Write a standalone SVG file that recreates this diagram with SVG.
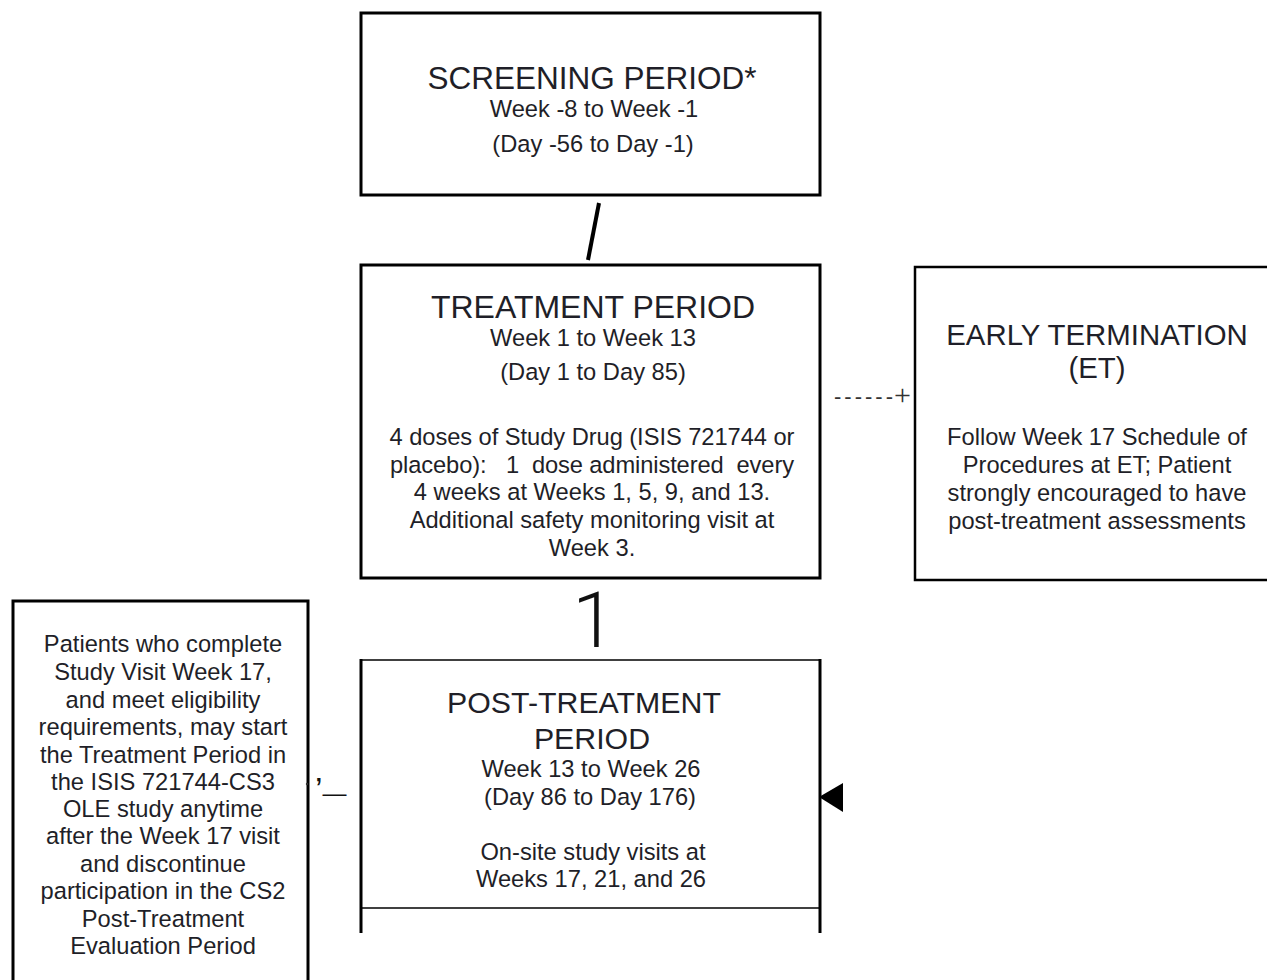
<svg xmlns="http://www.w3.org/2000/svg" width="1267" height="980" viewBox="0 0 1267 980">
<style>
.box{fill:#fff;stroke:#000;stroke-width:3}
text{font-family:"Liberation Sans",Arial,sans-serif;fill:#1f1f28;text-anchor:middle}
.t{font-size:31.5px}
.b{font-size:23.7px}
</style>
<rect width="1267" height="980" fill="#fff"/>
<g id="screening">
<rect class="box" x="361" y="13" width="459" height="182"/>
<text class="t" x="592" y="89">SCREENING PERIOD*</text>
<text class="b" x="594" y="117">Week -8 to Week -1</text>
<text class="b" x="593" y="152">(Day -56 to Day -1)</text>
</g>
<g id="treatment">
<rect class="box" x="361" y="265" width="459" height="313"/>
<text class="t" x="593" y="318" style="font-size:32px">TREATMENT PERIOD</text>
<text class="b" x="593" y="346">Week 1 to Week 13</text>
<text class="b" x="593" y="380">(Day 1 to Day 85)</text>
<text class="b" x="592" y="445" textLength="405" lengthAdjust="spacing">4 doses of Study Drug (ISIS 721744 or</text>
<text class="b" x="592" y="473" textLength="404" lengthAdjust="spacing" xml:space="preserve" style="white-space:pre">placebo):   1  dose administered  every</text>
<text class="b" x="592" y="500">4 weeks at Weeks 1, 5, 9, and 13.</text>
<text class="b" x="592" y="528">Additional safety monitoring visit at</text>
<text class="b" x="592" y="556">Week 3.</text>
</g>
<g id="early-termination">
<rect class="box" x="915" y="267" width="360" height="313" style="stroke-width:2.5"/>
<text class="t" x="1097" y="345" style="font-size:29.4px">EARLY TERMINATION</text>
<text class="t" x="1097" y="378" style="font-size:29.4px">(ET)</text>
<text class="b" x="1097" y="445">Follow Week 17 Schedule of</text>
<text class="b" x="1097" y="473">Procedures at ET; Patient</text>
<text class="b" x="1097" y="501">strongly encouraged to have</text>
<text class="b" x="1097" y="529">post-treatment assessments</text>
</g>
<g id="ole">
<rect class="box" x="13" y="601" width="295" height="400"/>
<text class="b" x="163" y="652">Patients who complete</text>
<text class="b" x="163" y="680">Study Visit Week 17,</text>
<text class="b" x="163" y="708">and meet eligibility</text>
<text class="b" x="163" y="735">requirements, may start</text>
<text class="b" x="163" y="763">the Treatment Period in</text>
<text class="b" x="163" y="790">the ISIS 721744-CS3</text>
<text class="b" x="163" y="817">OLE study anytime</text>
<text class="b" x="163" y="844">after the Week 17 visit</text>
<text class="b" x="163" y="872">and discontinue</text>
<text class="b" x="163" y="899">participation in the CS2</text>
<text class="b" x="163" y="927">Post-Treatment</text>
<text class="b" x="163" y="954">Evaluation Period</text>
</g>
<g id="post-treatment">
<rect x="361" y="660" width="459" height="248" fill="#fff"/>
<line x1="360" y1="660" x2="821" y2="660" stroke="#000" stroke-width="1.5"/>
<line x1="360" y1="908" x2="821" y2="908" stroke="#000" stroke-width="1.5"/>
<line x1="361" y1="659" x2="361" y2="933" stroke="#000" stroke-width="3"/>
<line x1="820" y1="659" x2="820" y2="933" stroke="#000" stroke-width="3"/>
<text class="t" x="584" y="713" style="font-size:30.3px">POST-TREATMENT</text>
<text class="t" x="592" y="749" style="font-size:30.3px">PERIOD</text>
<text class="b" x="591" y="777">Week 13 to Week 26</text>
<text class="b" x="590" y="805">(Day 86 to Day 176)</text>
<text class="b" x="593" y="860">On-site study visits at</text>
<text class="b" x="591" y="887">Weeks 17, 21, and 26</text>
</g>
<g id="connectors">
<line x1="599" y1="203" x2="588" y2="260" stroke="#000" stroke-width="4"/>
<text x="594" y="647" style="font-family:Roboto,'Liberation Sans',sans-serif;font-weight:300;font-size:78px;fill:#111">1</text>
<text x="834" y="404" style="font-family:'Liberation Sans',sans-serif;font-size:22px;text-anchor:start;fill:#333;letter-spacing:3px">------<tspan x="894" y="405" style="font-family:'Liberation Serif',serif;font-size:30px;letter-spacing:0">+</tspan></text>
<circle cx="307" cy="784" r="1.2" fill="#333"/>
<text x="315" y="801" style="text-anchor:start;fill:#111"><tspan style="font-size:34px">’</tspan><tspan style="font-size:24px">—</tspan></text>
<polygon points="819,797 843,783 843,812" fill="#000"/>
</g>
</svg>
